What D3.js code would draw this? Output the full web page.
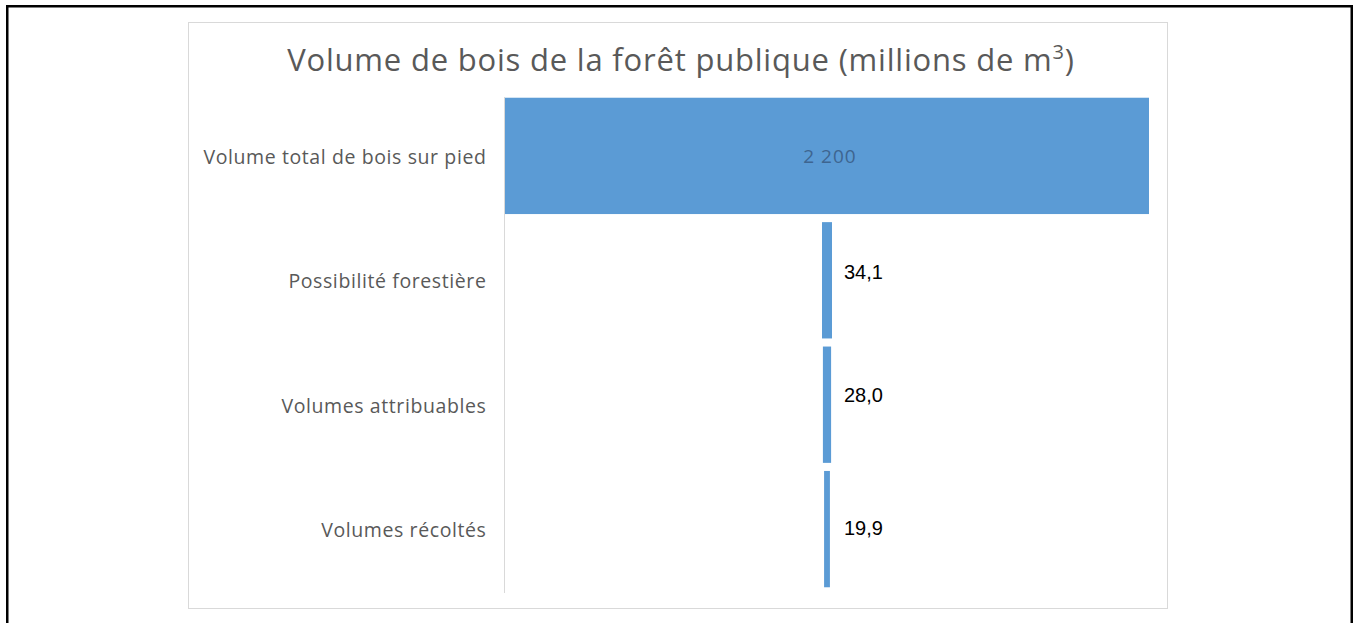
<!DOCTYPE html>
<html>
<head>
<meta charset="utf-8">
<script src="https://cdn.jsdelivr.net/npm/d3@7"></script>
<style>
  html, body { margin: 0; padding: 0; background: #fff; }
  svg { display: block; }
</style>
</head>
<body>
<svg id="chart" width="1356" height="623"></svg>
<script>
// Public forest wood volumes, in millions of cubic metres
const categories = [
  "Volume total de bois sur pied",
  "Possibilité forestière",
  "Volumes attribuables",
  "Volumes récoltés"
];
const values = [2200, 34.1, 28.0, 19.9];
const valueLabels = ["2 200", "34,1", "28,0", "19,9"];
const titleText = "Volume de bois de la forêt publique (millions de m";

// Layout
const W = 1356, H = 623;
const frame = { x: 188.5, y: 22.5, w: 979, h: 586 };
const plot = { left: 505, right: 1149, top: 94, bottom: 591 };
const cx = (plot.left + plot.right) / 2;
const labelNudge = [0, -8, -10, -1];   // vertical tweak of the outside value labels
const barColor = "#5b9bd5";
const textGray = "#595959";
const uiFont = "'Open Sans', 'Noto Sans', sans-serif";

const svg = d3.select("#chart");

// Outer black border
svg.append("rect")
  .attr("x", 7.25).attr("y", 6.25)
  .attr("width", 1344.5).attr("height", 660)
  .attr("fill", "none").attr("stroke", "#000").attr("stroke-width", 2.5);

// Chart area frame
svg.append("rect")
  .attr("x", frame.x).attr("y", frame.y)
  .attr("width", frame.w).attr("height", frame.h)
  .attr("fill", "#fff").attr("stroke", "#d9d9d9").attr("stroke-width", 1);

// Title
const title = svg.append("text")
  .attr("x", frame.x + frame.w / 2 + 3)
  .attr("y", 71)
  .attr("text-anchor", "middle")
  .attr("font-family", uiFont)
  .attr("font-size", 31)
  .attr("letter-spacing", 0.8)
  .attr("fill", textGray);
title.append("tspan").text(titleText);
title.append("tspan").attr("font-size", 20).attr("dy", -12).text("3");
title.append("tspan").attr("dy", 12).text(")");

// Scales
const y = d3.scaleBand()
  .domain(categories)
  .range([plot.top, plot.bottom])
  .paddingInner(0.065)
  .paddingOuter(0.03);

const w = d3.scaleLinear()
  .domain([0, d3.max(values)])
  .range([0, plot.right - plot.left]);

// Category axis
const axis = svg.append("g")
  .attr("transform", `translate(${plot.left - 0.5},0)`)
  .call(d3.axisLeft(y).tickSize(0).tickPadding(18));
axis.select(".domain").attr("stroke", "#d9d9d9").attr("d", `M0,${plot.top + 3}V${plot.bottom + 2}`);
axis.selectAll(".tick text")
  .attr("font-family", uiFont)
  .attr("font-size", 19.5)
  .attr("letter-spacing", 0.6)
  .attr("fill", textGray)
  .attr("dy", "0.4em");

// Funnel bars, centred on the plot
const rows = categories.map((c, i) => ({ c, v: values[i], label: valueLabels[i], i }));

svg.append("g").selectAll("rect")
  .data(rows)
  .join("rect")
  .attr("x", d => cx - w(d.v) / 2)
  .attr("y", d => y(d.c))
  .attr("width", d => w(d.v))
  .attr("height", y.bandwidth())
  .attr("fill", barColor);

// Value labels: inside the wide bar, to the right of the thin ones
svg.append("g").selectAll("text")
  .data(rows)
  .join("text")
  .attr("x", d => d.i === 0 ? cx + 3 : cx + 17)
  .attr("y", d => y(d.c) + y.bandwidth() / 2 + labelNudge[d.i])
  .attr("dy", "0.36em")
  .attr("text-anchor", d => d.i === 0 ? "middle" : "start")
  .attr("font-family", d => d.i === 0 ? uiFont : "'Liberation Sans', Arial, sans-serif")
  .attr("font-size", d => d.i === 0 ? 19 : 20)
  .attr("letter-spacing", d => d.i === 0 ? 1 : 0)
  .attr("fill", d => d.i === 0 ? "#3e6590" : "#000")
  .text(d => d.label);
</script>
</body>
</html>
